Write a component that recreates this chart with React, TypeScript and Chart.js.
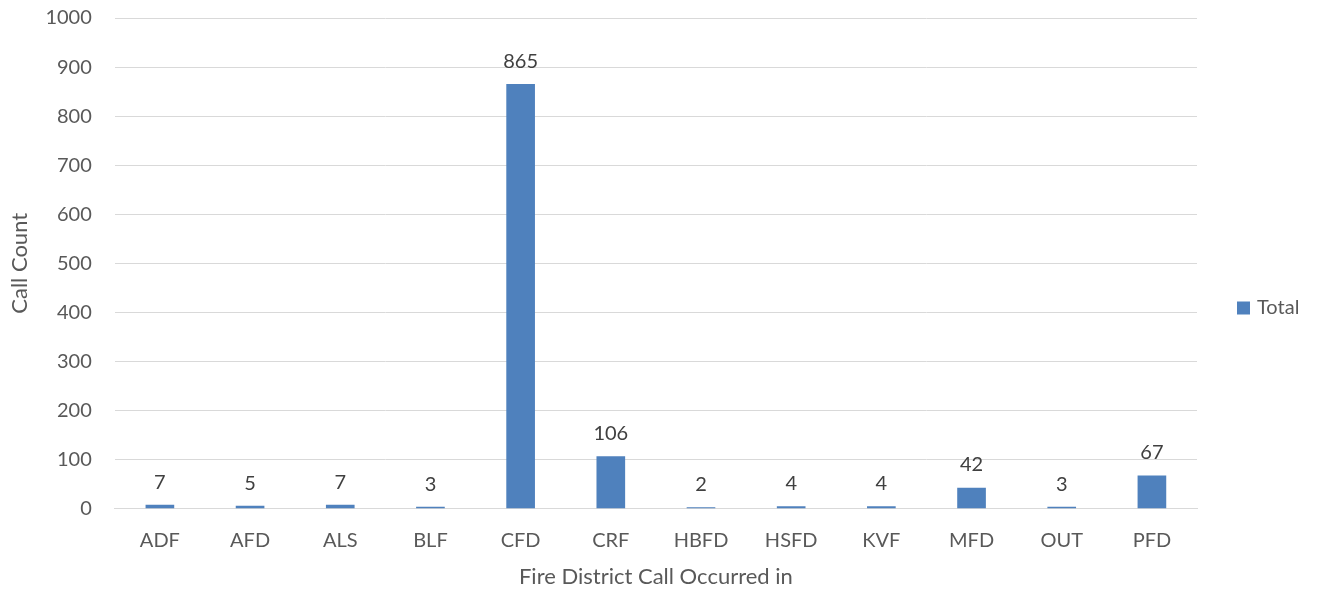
import React, { useEffect, useRef } from "react";
import { Chart, registerables } from "chart.js";

Chart.register(...registerables);

const categories = ["ADF", "AFD", "ALS", "BLF", "CFD", "CRF", "HBFD", "HSFD", "KVF", "MFD", "OUT", "PFD"];
const totals = [7, 5, 7, 3, 865, 106, 2, 4, 4, 42, 3, 67];
const yTicks = [0, 100, 200, 300, 400, 500, 600, 700, 800, 900, 1000];
const seriesName = "Total";

const FONT = "Lato, 'Open Sans', sans-serif";
const BAR_COLOR = "#4F81BD";

const dataLabels = {
  id: "dataLabels",
  afterDatasetsDraw(chart: any) {
    const ctx = chart.ctx;
    const meta = chart.getDatasetMeta(0);
    ctx.save();
    ctx.fillStyle = "#404040";
    ctx.font = `20px ${FONT}`;
    ctx.textAlign = "center";
    ctx.textBaseline = "bottom";
    meta.data.forEach((bar: any, i: number) => {
      ctx.fillText(String(chart.data.datasets[0].data[i]), bar.x, bar.y - 13);
    });
    ctx.restore();
  },
};

const sideLegend = {
  id: "sideLegend",
  afterDraw(chart: any) {
    const ctx = chart.ctx;
    const area = chart.chartArea;
    const cy = 308;
    const x = area.right + 40;
    ctx.save();
    ctx.fillStyle = chart.data.datasets[0].backgroundColor;
    ctx.fillRect(x, cy - 6.5, 13, 13);
    ctx.fillStyle = "#595959";
    ctx.font = `20px ${FONT}`;
    ctx.textAlign = "left";
    ctx.textBaseline = "middle";
    ctx.fillText(chart.data.datasets[0].label, x + 20, cy);
    ctx.restore();
  },
};

export default function App() {
  const ref = useRef<HTMLCanvasElement>(null);
  useEffect(() => {
    if (!ref.current) return;
    const chart = new Chart(ref.current, {
      type: "bar",
      data: {
        labels: categories,
        datasets: [
          {
            label: seriesName,
            data: totals,
            backgroundColor: BAR_COLOR,
            barThickness: 28,
          },
        ],
      },
      options: {
        animation: false,
        responsive: false,
        maintainAspectRatio: false,
        layout: { padding: { left: 7, right: 120, top: 18, bottom: 4 } },
        plugins: {
          legend: { display: false },
          tooltip: { enabled: false },
        },
        scales: {
          x: {
            grid: { display: false, drawTicks: false },
            border: { color: "#D9D9D9", width: 1 },
            ticks: { color: "#595959", font: { family: FONT, size: 20 }, padding: 20 },
            title: {
              display: true,
              text: "Fire District Call Occurred in",
              color: "#595959",
              font: { family: FONT, size: 22 },
              padding: { top: -9, bottom: 0 },
            },
          },
          y: {
            min: 0,
            max: 1000,
            afterBuildTicks: (axis: any) => {
              axis.ticks = yTicks.map((v) => ({ value: v }));
            },
            afterFit: (axis: any) => {
              axis.paddingTop = 0;
              axis.paddingBottom = 0;
            },
            grid: { color: "#D9D9D9", drawTicks: false },
            border: { display: false },
            ticks: {
              color: "#595959",
              font: { family: FONT, size: 20 },
              padding: 23,
              callback: (v: any) => String(v),
            },
            title: {
              display: true,
              text: "Call Count",
              color: "#595959",
              font: { family: FONT, size: 22 },
              padding: { top: 0, bottom: -11 },
            },
          },
        },
      },
      plugins: [dataLabels, sideLegend],
    });
    return () => chart.destroy();
  }, []);
  return (
    <div style={{ position: "fixed", left: 0, top: 0, width: 1317, height: 594, background: "#fff" }}>
      <canvas ref={ref} width={1317} height={594} />
    </div>
  );
}
